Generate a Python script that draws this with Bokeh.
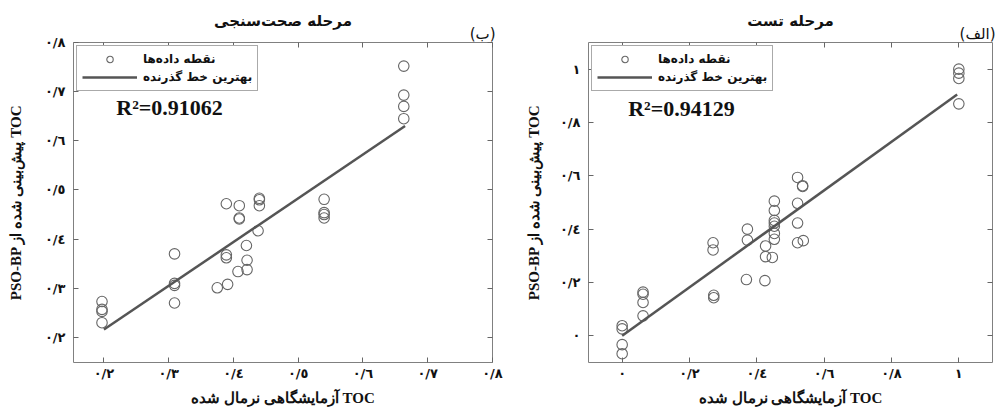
from bokeh.plotting import figure
from bokeh.layouts import row
from bokeh.models import Range1d, FixedTicker, LinearAxis, Label, Legend, LegendItem, Title
from bokeh.embed import file_html
from bokeh.resources import INLINE

# ---- Panel (ب): validation stage ----
val_target = [0.197, 0.197, 0.197, 0.197,
              0.309, 0.309, 0.309, 0.309,
              0.375, 0.391,
              0.389, 0.389, 0.389,
              0.407, 0.421, 0.421, 0.420,
              0.409, 0.409, 0.409,
              0.440, 0.440, 0.440, 0.438,
              0.540, 0.540, 0.540, 0.540,
              0.663, 0.663, 0.663, 0.663]
val_output = [0.273, 0.257, 0.253, 0.230,
              0.370, 0.310, 0.306, 0.270,
              0.301, 0.308,
              0.472, 0.368, 0.362,
              0.334, 0.338, 0.357, 0.387,
              0.468, 0.443, 0.441,
              0.483, 0.480, 0.468, 0.417,
              0.481, 0.454, 0.450, 0.443,
              0.752, 0.693, 0.670, 0.645]
val_fit_x = [0.2, 0.665]
val_fit_y = [0.216, 0.630]
val_r2 = "R²=0.91062"
val_ticks = [0.2, 0.3, 0.4, 0.5, 0.6, 0.7, 0.8]
val_tick_labels = ["٠/٢", "٠/٣", "٠/٤", "٠/٥", "٠/٦", "٠/٧", "٠/٨"]
val_title = "مرحله صحت‌سنجی"
val_tag = "(ب)"

# ---- Panel (الف): test stage ----
test_target = [0.0, 0.0, 0.0, 0.0,
               0.062, 0.062, 0.062, 0.062,
               0.272, 0.272,
               0.270, 0.270,
               0.369, 0.424,
               0.372, 0.372,
               0.452, 0.452, 0.452, 0.452, 0.452, 0.452, 0.452,
               0.426, 0.426, 0.446,
               0.521, 0.536, 0.536,
               0.521, 0.521, 0.521, 0.538,
               1.0, 1.0, 1.0, 1.0]
test_output = [0.038, 0.026, -0.033, -0.067,
               0.164, 0.156, 0.125, 0.075,
               0.152, 0.143,
               0.349, 0.322,
               0.211, 0.207,
               0.400, 0.359,
               0.505, 0.470, 0.433, 0.423, 0.411, 0.384, 0.362,
               0.337, 0.297, 0.294,
               0.594, 0.563, 0.560,
               0.497, 0.423, 0.349, 0.357,
               1.000, 0.985, 0.965, 0.870]
test_fit_x = [0.0, 0.995]
test_fit_y = [0.0, 0.905]
test_r2 = "R²=0.94129"
test_ticks = [0, 0.2, 0.4, 0.6, 0.8, 1]
test_tick_labels = ["٠", "٠/٢", "٠/٤", "٠/٦", "٠/٨", "١"]
test_title = "مرحله تست"
test_tag = "(الف)"

x_label = "آزمایشگاهی نرمال شده TOC"
y_label = "PSO-BP پیش‌بینی شده از TOC"
legend_points = "نقطه داده‌ها"
legend_line = "بهترین خط گذرنده"

FA_FONT = "DejaVu Sans"
SERIF = "Liberation Serif"
GRAY = "#666666"


def panel(xs, ys, fx, fy, r2, ticks, tick_labels, xr, yr, title, tag,
          width, mb_left, mb_right, ylab_standoff, tag_offset, r2_xy):
    p = figure(width=width, height=408,
               x_range=Range1d(*xr), y_range=Range1d(*yr),
               output_backend="svg", toolbar_location=None,
               min_border_left=mb_left, min_border_right=mb_right,
               min_border_top=42, min_border_bottom=45,
               x_axis_label=x_label, y_axis_label=y_label)
    p.title.text = title
    p.title.align = "center"
    p.title.text_font = FA_FONT
    p.title.text_font_size = "15px"
    p.title.text_font_style = "bold"
    p.title.text_color = "#111111"
    p.title.standoff = -14
    p.grid.visible = False
    p.outline_line_color = "#808080"
    p.outline_line_width = 1
    p.background_fill_color = "white"
    p.border_fill_color = "white"

    overrides = dict(zip(ticks, tick_labels))
    for ax in list(p.xaxis) + list(p.yaxis):
        ax.ticker = FixedTicker(ticks=ticks)
        ax.major_label_overrides = overrides
        ax.major_tick_in = 5
        ax.major_tick_out = 0
        ax.minor_tick_line_color = None
        ax.major_tick_line_color = GRAY
        ax.axis_line_color = None
        ax.major_label_text_font = FA_FONT
        ax.major_label_text_font_size = "13px"
        ax.major_label_text_font_style = "bold"
        ax.major_label_text_color = "#111111"
        ax.axis_label_text_font = SERIF
        ax.axis_label_text_font_size = "15px"
        ax.axis_label_text_font_style = "bold"
        ax.axis_label_text_color = "#111111"
    p.xaxis.major_label_standoff = 3
    p.xaxis.axis_label_standoff = 6
    p.yaxis.major_label_standoff = 8
    p.yaxis.axis_label_standoff = ylab_standoff

    for side in ("above", "right"):
        extra = LinearAxis(ticker=FixedTicker(ticks=ticks),
                           major_label_text_color=None,
                           major_label_standoff=0,
                           major_tick_in=5, major_tick_out=0,
                           major_tick_line_color=GRAY,
                           minor_tick_line_color=None,
                           axis_line_color=None)
        p.add_layout(extra, side)

    # panel tag, just above the frame at its right end
    p.add_layout(Title(text=tag, align="right", standoff=0, offset=tag_offset,
                       text_font=FA_FONT, text_font_size="15px",
                       text_font_style="normal", text_color="#111111"),
                 "above")

    sc = p.scatter(xs, ys, marker="circle", size=10.5, fill_color=None,
                   line_color=GRAY, line_width=1.1)
    ln = p.line(fx, fy, line_color="#555555", line_width=2.5)

    legend = Legend(items=[LegendItem(label=legend_points, renderers=[sc]),
                           LegendItem(label=legend_line, renderers=[ln])],
                    location="top_left", margin=3, padding=5, spacing=2,
                    glyph_width=55, glyph_height=16, label_height=16,
                    label_standoff=6,
                    label_text_font=FA_FONT, label_text_font_size="12px",
                    label_text_font_style="bold", label_text_color="#111111",
                    border_line_color="#555555", border_line_width=1,
                    background_fill_alpha=1.0)
    p.add_layout(legend)

    p.add_layout(Label(x=r2_xy[0], y=r2_xy[1], text=r2,
                       text_font=SERIF, text_font_size="22px",
                       text_font_style="bold", text_baseline="middle",
                       text_color="#111111"))
    return p


p1 = panel(val_target, val_output, val_fit_x, val_fit_y, val_r2,
           val_ticks, val_tick_labels, (0.153, 0.8), (0.149, 0.8),
           val_title, val_tag, width=522, mb_left=73, mb_right=30,
           ylab_standoff=18, tag_offset=-3, r2_xy=(0.219, 0.667))
p2 = panel(test_target, test_output, test_fit_x, test_fit_y, test_r2,
           test_ticks, test_tick_labels, (-0.1, 1.1), (-0.1, 1.1),
           test_title, test_tag, width=475, mb_left=65, mb_right=5,
           ylab_standoff=15, tag_offset=-3, r2_xy=(0.018, 0.852))

layout = row(p1, p2)
open("out.html", "w").write(file_html(layout, INLINE))
